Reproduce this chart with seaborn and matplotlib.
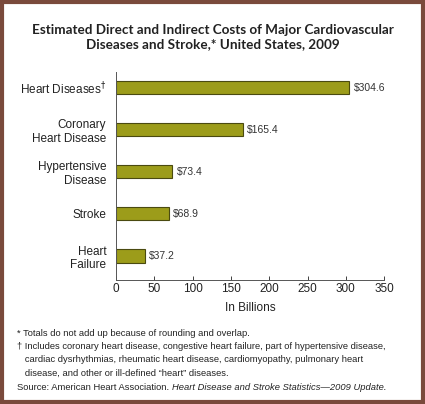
import matplotlib
matplotlib.use("Agg")
import matplotlib.pyplot as plt
import seaborn as sns
import pandas as pd
from matplotlib.patches import Rectangle

# data
categories = ["Heart Diseases$^{\\dagger}$", "Coronary\nHeart Disease", "Hypertensive\nDisease",
              "Stroke", "Heart\nFailure"]
costs = [304.6, 165.4, 73.4, 68.9, 37.2]
value_labels = ["$304.6", "$165.4", "$73.4", "$68.9", "$37.2"]
x_ticks = [0, 50, 100, 150, 200, 250, 300, 350]

title = "Estimated Direct and Indirect Costs of Major Cardiovascular\nDiseases and Stroke,* United States, 2009"
footnotes = [
    "* Totals do not add up because of rounding and overlap.",
    "\u2020 Includes coronary heart disease, congestive heart failure, part of hypertensive disease,",
    "   cardiac dysrhythmias, rheumatic heart disease, cardiomyopathy, pulmonary heart",
    "   disease, and other or ill-defined \u201cheart\u201d diseases.",
]
source_plain = "Source: American Heart Association. "
source_italic = "Heart Disease and Stroke Statistics\u20142009 Update."

sns.set_style("white")
plt.rcParams["font.family"] = ["Liberation Sans", "DejaVu Sans"]

df = pd.DataFrame({"Category": categories, "Cost": costs})

fig = plt.figure(figsize=(4.25, 4.04), dpi=100)
ax = fig.add_axes([0.273, 0.307, 0.631, 0.515])

sns.barplot(data=df, x="Cost", y="Category", ax=ax, color="#9c9c1a",
            edgecolor="#4a4a10", linewidth=0.8, width=0.31, saturation=1)

# dollar labels at the end of each bar
for i, (v, lab) in enumerate(zip(costs, value_labels)):
    ax.text(v + 6, i, lab, va="center", ha="left", fontsize=7.5, color="#333333")

ax.set_xlim(0, 350)
ax.set_ylim(4.57, -0.38)
ax.set_xticks(x_ticks)
ax.set_xlabel("In Billions", fontsize=8.5, color="#222222", labelpad=5)
ax.set_ylabel("")
ax.tick_params(axis="x", labelsize=8.5, colors="#222222", length=3, width=0.6,
               direction="in", pad=2, bottom=True)
ax.tick_params(axis="y", labelsize=8.5, colors="#222222", length=0, pad=7)
for lbl in ax.get_yticklabels():
    lbl.set_multialignment("right")
for s in ["top", "right"]:
    ax.spines[s].set_visible(False)
for s in ["left", "bottom"]:
    ax.spines[s].set_color("#555555")
    ax.spines[s].set_linewidth(0.7)

fig.text(0.5, 0.908, title, ha="center", va="center", fontsize=9.7,
         fontweight="bold", family=["Lato", "DejaVu Sans"], color="#222222",
         linespacing=1.2)

# footnotes
fs = 6.75
y = 1 - 333 / 404
for line in footnotes:
    fig.text(0.04, y, line, fontsize=fs, color="#222222", va="center")
    y -= 13.5 / 404

t = fig.text(0.04, y, source_plain, fontsize=fs, color="#222222", va="center")
fig.canvas.draw()
bb = t.get_window_extent(renderer=fig.canvas.get_renderer())
x_next = bb.x1 / fig.bbox.width
fig.text(x_next, y, source_italic, fontsize=fs, color="#222222", va="center",
         style="italic")

fig.patches.append(Rectangle((0.004, 0.004), 0.992, 0.992, transform=fig.transFigure,
                             fill=False, edgecolor="#7a4a3c", linewidth=3))

fig.savefig("out.png", dpi=100)
